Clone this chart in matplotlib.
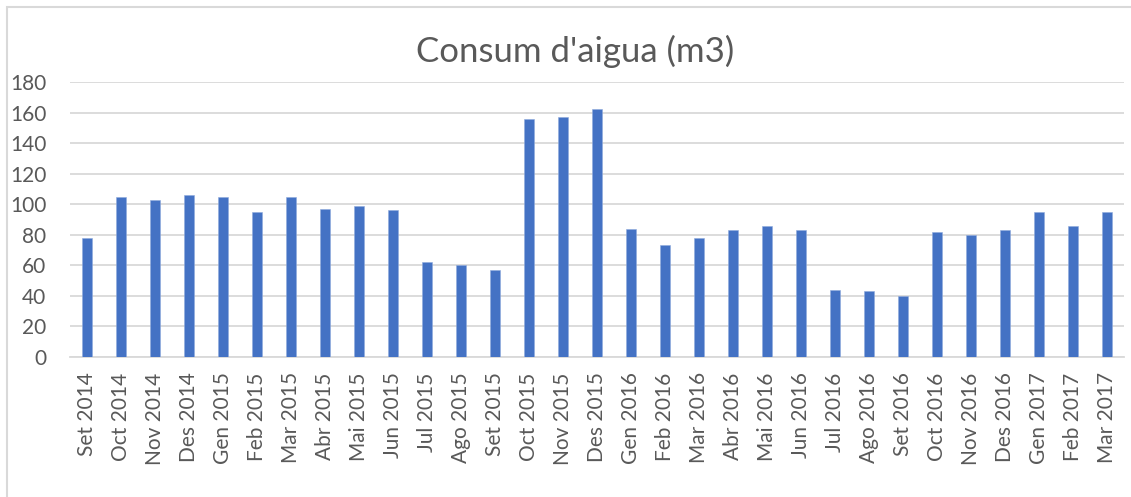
import matplotlib
matplotlib.use("Agg")
import matplotlib.pyplot as plt
from matplotlib.patches import Rectangle
import numpy as np

# ─── Dades ────────────────────────────────────────────────────────────────────
mesos = [
    "Set 2014", "Oct 2014", "Nov 2014", "Des 2014",
    "Gen 2015", "Feb 2015", "Mar 2015", "Abr 2015", "Mai 2015", "Jun 2015",
    "Jul 2015", "Ago 2015", "Set 2015", "Oct 2015", "Nov 2015", "Des 2015",
    "Gen 2016", "Feb 2016", "Mar 2016", "Abr 2016", "Mai 2016", "Jun 2016",
    "Jul 2016", "Ago 2016", "Set 2016", "Oct 2016", "Nov 2016", "Des 2016",
    "Gen 2017", "Feb 2017", "Mar 2017",
]
consum = [
    78, 105, 103, 106,
    105, 95, 105, 97, 99, 96,
    62, 60, 57, 156, 157, 162,
    84, 73, 78, 83, 86, 83,
    44, 43, 40, 82, 80, 83,
    95, 86, 95,
]
y_ticks = [0, 20, 40, 60, 80, 100, 120, 140, 160, 180]

# ─── Estil ────────────────────────────────────────────────────────────────────
TEXT = "#595959"
GRID = "#D9D9D9"
BAR = "#4472C4"
plt.rcParams["font.family"] = ["Lato", "DejaVu Sans"]

W, H = 1131, 497
fig = plt.figure(figsize=(W / 100, H / 100), dpi=100)
ax = fig.add_axes([70 / W, (H - 357) / H, 1054 / W, 275 / H])

x = np.arange(len(mesos))
ax.bar(x, consum, width=0.31, color=BAR, edgecolor="#8FAADC", linewidth=0.4, zorder=3)

ax.set_xlim(-0.5, len(mesos) - 0.5)
ax.set_ylim(0, 180)
ax.set_yticks(y_ticks)
ax.set_xticks(x)
ax.set_xticklabels(mesos, rotation=90, va="top", ha="center")
ax.grid(axis="y", color=GRID, linewidth=1.3, zorder=0)
ax.set_axisbelow(True)

for side in ["top", "right", "left"]:
    ax.spines[side].set_visible(False)
ax.spines["bottom"].set_color(GRID)
ax.spines["bottom"].set_linewidth(1.3)
ax.tick_params(axis="both", length=0, colors=TEXT, labelsize=15)
ax.tick_params(axis="x", pad=11)
ax.tick_params(axis="y", pad=17)

fig.text(575 / W, 1 - 51 / H, "Consum d'aigua (m3)", ha="center", va="center",
         fontsize=25, color=TEXT, fontweight="normal")

# vora del gràfic (retallada a dreta i a baix)
fig.patches.append(Rectangle((7 / W, -0.1), 1.2, 1 - 7 / H + 0.1,
                             transform=fig.transFigure, fill=False,
                             edgecolor=GRID, linewidth=1.5))

fig.savefig("out.png", dpi=100)
plt.close(fig)
